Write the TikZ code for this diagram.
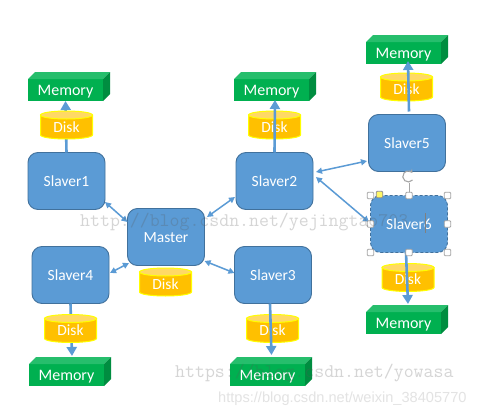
\documentclass[tikz,border=0pt]{standalone}
\usepackage{fontspec}
\setmainfont{Carlito}
\newfontfamily\wmsans{Liberation Sans}
\usetikzlibrary{arrows.meta,calc}
\definecolor{boxfill}{HTML}{5B9BD5}
\definecolor{boxline}{HTML}{41719C}
\definecolor{memfront}{HTML}{00B050}
\definecolor{memtop}{HTML}{26BE6C}
\definecolor{memside}{HTML}{008D40}
\definecolor{diskfill}{HTML}{FFC000}
\definecolor{disktop}{HTML}{FFD966}
\definecolor{diskline}{HTML}{FFFF00}
\definecolor{handle}{HTML}{A6A6A6}
\newcommand{\lowered}[1]{\raisebox{-5pt}[6pt][6pt]{#1}}
\tikzset{
  slaver/.style={draw=boxline,fill=boxfill,line width=0.9pt,rounded corners=10pt,minimum width=77pt,minimum height=57pt,text=white,font=\fontsize{15.5}{18}\selectfont,inner sep=0pt,outer sep=0pt},
  slaverlabel/.style={text=white,font=\fontsize{15.5}{18}\selectfont,inner sep=0pt},
  memorybox/.style={fill=memfront,minimum width=75pt,minimum height=22pt,text=white,font=\fontsize{16}{18}\selectfont,inner sep=0pt,outer sep=0pt},
  disklabel/.style={minimum width=52pt,minimum height=20pt,text=white,font=\fontsize{15.5}{18}\selectfont,inner sep=0pt,outer sep=0pt},
  diskedge/.style={draw=diskline,line width=1pt},
  link/.style={draw=boxfill,line width=1.5pt,{Triangle[length=6pt,width=6pt]}-{Triangle[length=6pt,width=6pt]}},
  heavy/.style={draw=boxfill,line width=2.6pt,-{Triangle[length=9pt,width=10pt]}},
  selhandle/.style={draw=handle,fill=white,line width=0.8pt,rounded corners=1pt,minimum size=6.5pt,inner sep=0pt},
  wmono/.style={text=black!65,text opacity=.25,font=\ttfamily\fontsize{19.3}{20}\selectfont,inner sep=0pt,anchor=west},
}
\newcommand{\memshape}[3]{%
  \node[memorybox] (#1) at (#2+37.5,#3+18) {\lowered{Memory}};
  \fill[memtop] (#1.north west) -- ++(7,-7) -- ++(75,0) -- (#1.north east) -- cycle;
  \fill[memside] (#1.north east) -- ++(7,-7) -- ++(0,22) -- (#1.south east) -- cycle;
}
% name, centre x, top y
\newcommand{\diskshape}[3]{%
  \path[diskedge,fill=diskfill] (#2-26,#3+4) -- (#2-26,#3+24) arc[x radius=26pt,y radius=4pt,start angle=180,end angle=360] -- (#2+26,#3+4) -- cycle;
  \path[diskedge,fill=disktop] (#2,#3+4) ellipse[x radius=26pt,y radius=4pt];
  \node[disklabel] (#1) at (#2,#3+16) {\lowered{Disk}};
}
\begin{document}
\begin{tikzpicture}[x=1pt,y=-1pt]
\useasboundingbox (0,0) rectangle (499,418);
\fill[white] (0,0) rectangle (499,418);
% Boxes
\node[slaver] (s1) at (66.5,181) {\lowered{Slaver1}};
\node[slaver] (s2) at (274.5,181) {\lowered{Slaver2}};
\node[slaver] (s3) at (273,275) {\lowered{Slaver3}};
\node[slaver] (s4) at (70.5,275) {\lowered{Slaver4}};
\node[slaver] (s5) at (407,143) {\lowered{Slaver5}};
\node[slaver,densely dashed] (s6) at (409,224) {};
\node[slaver] (master) at (166,237) {\lowered{Master}};
% Memory
\memshape{m1}{28}{72}
\memshape{m2}{234}{72}
\memshape{m3}{230}{357}
\memshape{m4}{29}{357}
\memshape{m5}{366}{35}
\memshape{m6}{366}{305}
% Arrows below disks
\draw[heavy] (s1.north) -- (m1.south);
\draw[heavy] (s4.south) -- ([xshift=5.5pt,yshift=8pt]m4.north);
% Disks
\diskshape{d1}{66.5}{111}
\diskshape{d2}{274.5}{111}
\diskshape{d3}{272.5}{314.5}
\diskshape{d4}{70.5}{314.5}
\diskshape{d5}{406.5}{73}
\diskshape{d6}{408}{263.5}
\diskshape{d0}{165.5}{268}
% Arrows above disks
\draw[heavy] (s2.north) -- ([xshift=3.5pt,yshift=1pt]m2.south);
\draw[heavy] ([xshift=2pt,yshift=3pt]s5.north) -- ([xshift=4.5pt,yshift=3pt]m5.south);
\draw[heavy] ([xshift=-3pt]s6.south) -- ([xshift=4.5pt,yshift=8pt]m6.north);
\draw[heavy] ([xshift=-3pt]s3.south) -- ([xshift=4pt,yshift=9pt]m3.north);
% Links
\draw[link] ([yshift=7.5pt]s1.south east) -- ([yshift=-13.5pt]master.north west);
\draw[link] ([xshift=-1pt,yshift=12.5pt]s2.south west) -- ([xshift=2.5pt,yshift=-8.5pt]master.north east);
\draw[link] ([yshift=4.5pt]master.south east) -- ([yshift=30.5pt]s3.south west);
\draw[link] ([xshift=1pt,yshift=30.5pt]s4.south east) -- ([xshift=1.5pt,yshift=2.5pt]master.south west);
\draw[link] ([xshift=3pt,yshift=37.5pt]s2.south east) -- ([xshift=-1.5pt,yshift=10.5pt]s5.south west);
\draw[link] ([xshift=3pt,yshift=32.5pt]s2.south east) -- ([xshift=-1.5pt,yshift=2pt]s6.west);
% Selection frame
\draw[handle,line width=0.8pt] (s6.north) -- ++(0,-13);
\foreach \a/\n in {north west/a,north/b,north east/c,west/d,east/e,south west/f,south/g,south east/h}
  \node[selhandle] (sel\n) at (s6.\a) {};
\node[selhandle,fill=yellow!60!white,draw=black!45] (adj) at ([xshift=9pt,yshift=1pt]s6.north west) {};
\draw[handle,line width=1.1pt,-{Stealth[length=3.5pt,width=4.5pt]}] (412.5,180) arc[start angle=-40,end angle=-320,radius=5.5pt];
% Watermarks
\node[wmono] (w1) at (80,222) {http://blog.csdn.net/yejingtao703};
\node[wmono] (w2) at (175,373) {https://blog.csdn.net/yowasa};
\node[text=black!11,inner sep=0pt,anchor=west,font=\wmsans\fontsize{14.6}{18}\selectfont] (w3) at (218,399) {https://blog.csdn.net/weixin\_38405770};
% Label of the selected box, with its text cursor
\node[slaverlabel] (s6label) at (s6.center) {\lowered{Slaver6}};
\draw[black!50,line width=0.4pt] (425,213) -- (425,233);
\end{tikzpicture}
\end{document}
